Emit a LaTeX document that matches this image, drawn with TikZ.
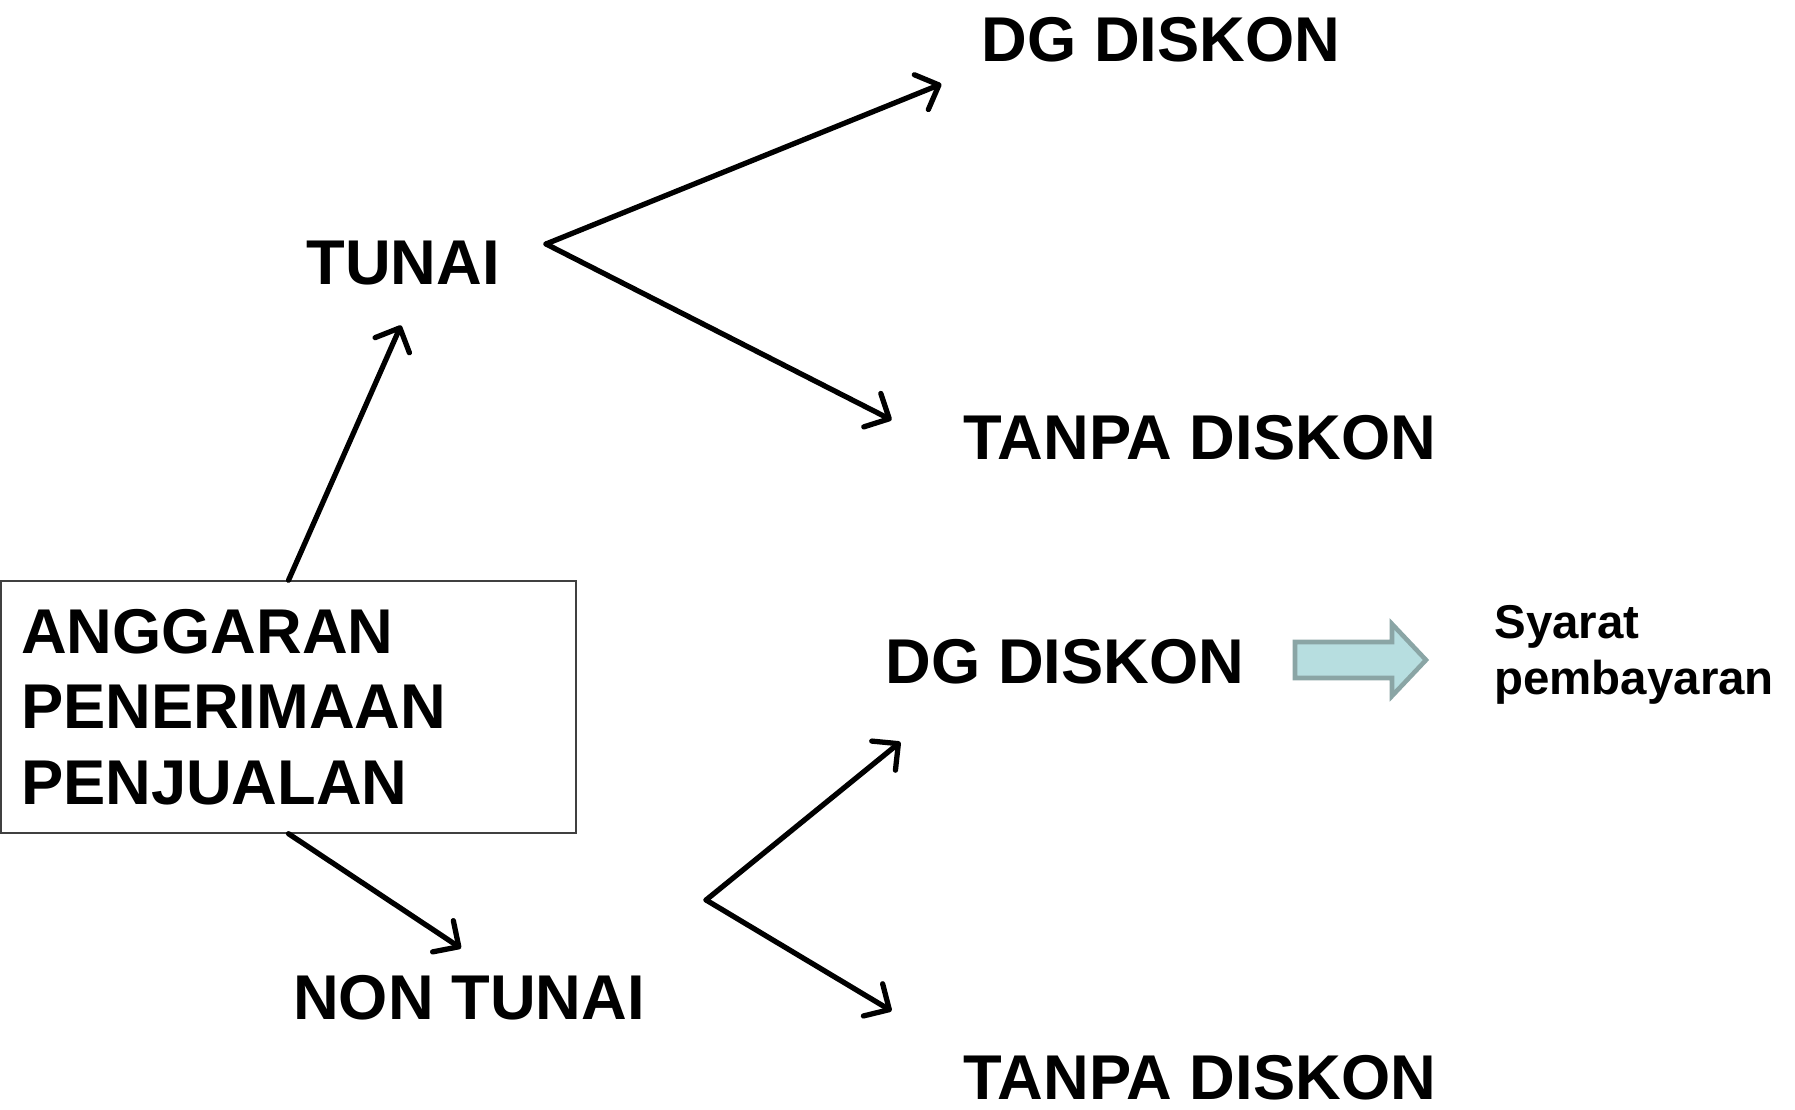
\documentclass[tikz,border=0pt]{standalone}
\usepackage{fontspec}
\setmainfont{Liberation Sans}
\usetikzlibrary{arrows.meta, positioning}

\definecolor{shaftfill}{RGB}{183,222,224}
\definecolor{shaftline}{RGB}{138,165,165}

\begin{document}
\begin{tikzpicture}[
    every node/.style={font=\bfseries\fontsize{36}{43}\selectfont, inner sep=0pt},
    budget/.style={rectangle, draw=black!75, line width=0.8pt, text width=10.7cm, align=left,
                   inner xsep=0.4cm, minimum height=5.04cm},
    branch/.style={anchor=center},
    note/.style={font=\bfseries\fontsize{27}{32}\selectfont, align=left, anchor=west},
    arrow/.style={-{Straight Barb[length=3.8mm, width=7.5mm, round]}, line width=3pt, line cap=round},
    blockarrow/.style={draw=shaftline, line width=2.6pt, fill=shaftfill, line join=miter}
]
\useasboundingbox (0,0) rectangle (35.9,22.2);

% ============ MAIN BOX ============
\node[budget] (budget) at (5.77, 8.06) {ANGGARAN\\PENERIMAAN\\PENJUALAN};

% ============ PAYMENT TYPE ============
\node[branch] (tunai) at (8.06, 16.94) {TUNAI};
\node[branch] (nontunai) at (9.38, 2.24) {NON TUNAI};

% ============ DISCOUNT ============
\node[branch] (dgA) at (23.22, 21.4) {DG DISKON};
\node[branch] (tanpaA) at (24.0, 13.44) {TANPA DISKON};
\node[branch] (dgB) at (21.3, 8.96) {DG DISKON};
\node[branch] (tanpaB) at (24.0, 0.64) {TANPA DISKON};

\node[note] (syarat) at (29.88, 9.1) {Syarat\\pembayaran};

% ============ ARROW ENDS ============
\coordinate (tunaiIn) at ([shift={(-0.04,-0.8)}]tunai.south);
\coordinate (nonIn) at ([shift={(-0.16,0.54)}]nontunai.north);
\coordinate (tunaiFork) at ([shift={(0.92,0.38)}]tunai.east);
\coordinate (nonFork) at ([shift={(1.22,1.96)}]nontunai.east);
\coordinate (dgAIn) at ([shift={(-0.8,-0.88)}]dgA.west);
\coordinate (tanpaAIn) at ([shift={(-1.44,0.36)}]tanpaA.west);
\coordinate (dgBIn) at ([shift={(0.3,-1.6)}]dgB.west);
\coordinate (tanpaBIn) at ([shift={(-1.44,1.34)}]tanpaB.west);

% ============ ARROWS ============
\draw[arrow] (budget.north) -- (tunaiIn);
\draw[arrow] (budget.south) -- (nonIn);
\draw[arrow] (tunaiFork) -- (dgAIn);
\draw[arrow] (tunaiFork) -- (tanpaAIn);
\draw[arrow] (nonFork) -- (dgBIn);
\draw[arrow] (nonFork) -- (tanpaBIn);

% block arrow to the note
\draw[blockarrow] (25.9,8.64) -- (27.84,8.64) -- (27.84,8.28) -- (28.52,9.0)
    -- (27.84,9.72) -- (27.84,9.36) -- (25.9,9.36) -- cycle;

\end{tikzpicture}
\end{document}
